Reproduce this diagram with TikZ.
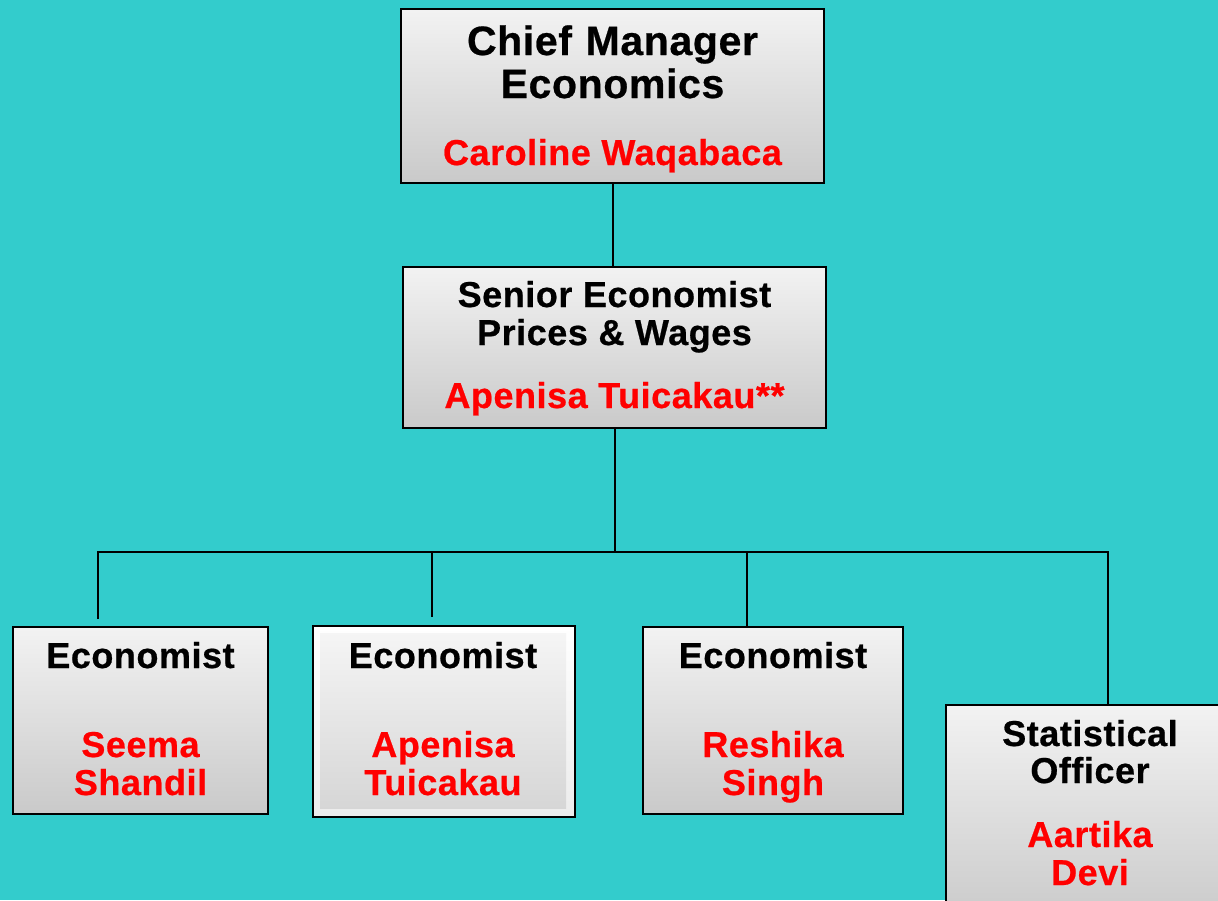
\documentclass[tikz,border=0pt]{standalone}
\usepackage{fontspec}
\setmainfont{Liberation Sans}[LetterSpace=1.5, BoldFeatures={FakeBold=0.6}]
\definecolor{teal0}{HTML}{33CCCC}
\definecolor{redt}{HTML}{FF0000}
\tikzset{
  box/.style={draw=black, line width=1.6pt, top color=gray!10, bottom color=gray!42, anchor=north west, inner sep=0pt, outer sep=0pt},
  conn/.style={draw=black, line width=2pt},
  ttl/.style={font=\bfseries\fontsize{41}{41}\selectfont, anchor=base, inner sep=0pt},
  blk/.style={font=\bfseries\fontsize{36}{36}\selectfont, anchor=base, inner sep=0pt, text=black},
  nm/.style={font=\bfseries\fontsize{36}{36}\selectfont, anchor=base, inner sep=0pt, text=redt},
}
\begin{document}
\begin{tikzpicture}[x=1pt,y=-1pt]
\clip (0,0) rectangle (1218,900);
\fill[teal0] (0,0) rectangle (1218,900);
% boxes
\node[box, minimum width=423pt, minimum height=174pt] (cm) at (401,9) {};
\node[box, minimum width=423pt, minimum height=161pt] (se) at (403,267) {};
\node[box, minimum width=255pt, minimum height=187pt] (ea) at (13,627) {};
\node[draw=black, line width=1.6pt, top color=white, bottom color=gray!15, anchor=north west, inner sep=0pt, minimum width=262pt, minimum height=191pt] (eb) at (312,625) {};
\fill[top color=gray!8, bottom color=gray!32] (320,633) rectangle (566,808);
\node[box, minimum width=260pt, minimum height=187pt] (ec) at (643,627) {};
\node[box, minimum width=300pt, minimum height=220pt] (so) at (946,705) {};
% texts
\node[ttl] (t1) at (612.5,55) {Chief\,\,Manager};
\node[ttl] (t2) at (612.5,98) {Economics};
\node[nm] (n1) at (612.5,165) {Caroline Waqabaca};
\node[blk] (t3) at (614.5,307) {Senior Economist};
\node[blk] (t4) at (614.5,345) {Prices \& Wages};
\node[nm] (n2) at (614.5,408) {Apenisa Tuicakau**};
\node[blk] (t5) at (140.5,668) {Economist};
\node[nm] (n3) at (140.5,757) {Seema};
\node[nm] (n4) at (140.5,795) {Shandil};
\node[blk] (t6) at (443,668) {Economist};
\node[nm] (n5) at (443,757) {Apenisa};
\node[nm] (n6) at (443,795) {Tuicakau};
\node[blk] (t7) at (773,668) {Economist};
\node[nm] (n7) at (773,757) {Reshika};
\node[nm] (n8) at (773,795) {Singh};
\node[blk] (t8) at (1090,746) {Statistical};
\node[blk] (t9) at (1090,783) {Officer};
\node[nm] (n9) at (1090,847) {Aartika};
\node[nm] (n10) at (1090,885) {Devi};
% connectors
\coordinate (bA) at (98,552);
\coordinate (bB) at (432,552);
\coordinate (bC) at (747,552);
\coordinate (bD) at (1108,552);
\coordinate (eA) at (98,619);
\coordinate (eB) at (432,617);
\draw[conn] (cm.south) -- (cm.south |- se.north);
\draw[conn] (se.south) -- (se.south |- bA);
\draw[conn] (eA) -- (bA) -- (bD) -- (bD |- so.north);
\draw[conn] (bB) -- (eB);
\draw[conn] (bC) -- (bC |- ec.north);
\end{tikzpicture}
\end{document}
